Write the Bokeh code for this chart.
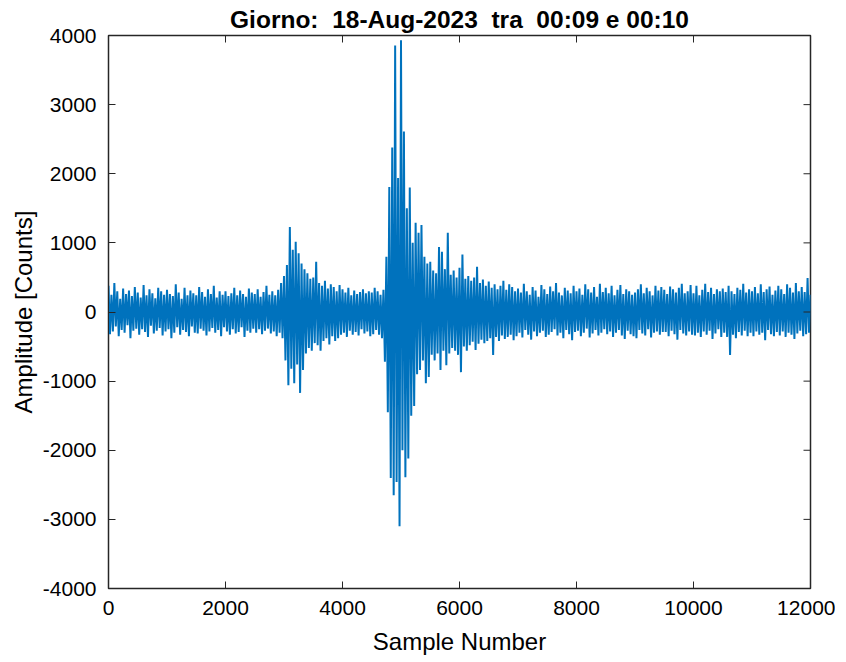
import math
from bokeh.plotting import figure
from bokeh.models import FixedTicker, Range1d, ColumnDataSource
from bokeh.embed import file_html
from bokeh.resources import INLINE

# ---- data (amplitude, one value every 25 samples) ----
STEP = 25
b00 = [380, -320, 250, -280, 420, -210, 300, -350, 190, -260, 340, -300, 260, -190, 310, -380, 230, -270, 360, -240]
b01 = [280, -330, 210, -250, 390, -290, 240, -360, 330, -200, 270, -310, 200, -270, 350, -230, 300, -340, 250, -280]
b02 = [320, -250, 260, -380, 230, -300, 400, -220, 280, -330, 190, -260, 350, -290, 240, -350, 310, -210, 270, -300]
b03 = [240, -310, 360, -240, 290, -270, 220, -340, 330, -280, 260, -230, 380, -300, 210, -260, 300, -350, 250, -220]
b04 = [300, -280, 230, -330, 270, -250, 350, -310, 240, -290, 310, -220, 260, -360, 220, -270, 340, -300, 280, -240]
b05 = [260, -300, 330, -250, 220, -320, 290, -270, 380, -240, 250, -310, 300, -280, 240, -350, 320, -300, 420, -380]
b06 = [520, -700, 680, -1060, 1230, -820, 900, -1030, 1015, -760, 850, -1170, 700, -840, 620, -600, 560, -520, 480, -560]
b07 = [500, -450, 725, -480, 420, -560, 380, -420, 450, -380, 340, -470, 400, -350, 360, -420, 300, -380, 390, -330]
b08 = [330, -300, 280, -360, 350, -270, 240, -330, 310, -290, 260, -340, 290, -250, 330, -310, 270, -280, 300, -350]
b09 = [280, -320, 350, -260, 300, -330, 250, -380, 320, -720, 800, -1450, 1810, -2400, 2380, -2650, 3855, -2460, 1940, -3100]
b10 = [3930, -2000, 2610, -2390, 1500, -2120, 1800, -1500, 1000, -1360, 1290, -900, 1145, -840, 1260, -700, 800, -1030, 700, -940]
b11 = [725, -620, 600, -700, 560, -600, 940, -840, 870, -560, 620, -770, 1145, -600, 540, -520, 600, -560, 500, -620]
b12 = [640, -870, 830, -500, 480, -560, 520, -480, 450, -430, 500, -550, 655, -460, 420, -400, 470, -450, 380, -420]
b13 = [440, -380, 350, -620, 400, -360, 330, -420, 380, -340, 450, -390, 320, -360, 400, -330, 360, -410, 300, -350]
b14 = [340, -300, 280, -370, 410, -260, 300, -330, 250, -400, 360, -280, 310, -350, 220, -300, 390, -270, 330, -360]
b15 = [260, -330, 370, -290, 300, -250, 420, -340, 280, -300, 240, -380, 350, -260, 310, -320, 270, -410, 380, -290]
b16 = [300, -270, 340, -350, 250, -300, 400, -240, 330, -370, 280, -310, 360, -260, 220, -340, 410, -300, 290, -250]
b17 = [350, -320, 270, -280, 380, -360, 240, -300, 320, -260, 390, -340, 260, -390, 330, -270, 300, -320, 250, -350]
b18 = [280, -380, 330, -260, 400, -310, 270, -340, 350, -250, 300, -370, 240, -300, 380, -280, 310, -330, 360, -290]
b19 = [320, -290, 260, -350, 370, -270, 330, -320, 280, -400, 350, -260, 410, -310, 270, -340, 300, -280, 390, -330]
b20 = [270, -340, 380, -300, 240, -360, 320, -280, 410, -330, 290, -270, 350, -390, 260, -310, 330, -250, 300, -360]
b21 = [340, -300, 290, -360, 380, -620, 300, -330, 260, -380, 350, -290, 320, -340, 410, -270, 280, -350, 330, -300]
b22 = [300, -350, 360, -280, 270, -330, 400, -300, 290, -410, 330, -260, 370, -320, 250, -350, 310, -290, 380, -340]
b23 = [330, -280, 260, -360, 400, -300, 350, -330, 280, -390, 420, -310, 300, -270, 360, -350, 290, -320, 490, -300]
b_end = [250]

x_ticks = [0, 2000, 4000, 6000, 8000, 10000, 12000]
y_ticks = [-4000, -3000, -2000, -1000, 0, 1000, 2000, 3000, 4000]
x_min, x_max = 0, 12000
y_min, y_max = -4000, 4000

title_text = "Giorno:\u00a0 18-Aug-2023\u00a0 tra\u00a0 00:09 e 00:10"
x_label = "Sample Number"
y_label = "Amplitude [Counts]"

amplitude = (b00 + b01 + b02 + b03 + b04 + b05 + b06 + b07 + b08 + b09 + b10 + b11 +
             b12 + b13 + b14 + b15 + b16 + b17 + b18 + b19 + b20 + b21 + b22 + b23 + b_end)
sample = [i * STEP for i in range(len(amplitude))]

src = ColumnDataSource(data=dict(sample=sample, amplitude=amplitude))

FONT = "'Liberation Sans', Arial, Helvetica, sans-serif"
AX = "#262626"

p = figure(frame_width=702, frame_height=553, output_backend="svg", toolbar_location=None,
           x_range=Range1d(x_min, x_max), y_range=Range1d(y_min, y_max),
           min_border_left=108, min_border_right=25, min_border_top=35, min_border_bottom=60,
           background_fill_color="white", border_fill_color="white")

p.line("sample", "amplitude", source=src, line_color="#0072BD", line_width=2.0)

# inner tick marks on the top and right edges of the box
p.ray(x=x_ticks, y=[y_max] * len(x_ticks), length=7, length_units="screen",
      angle=-math.pi / 2, line_color=AX, line_width=1)
p.ray(x=[x_max] * len(y_ticks), y=y_ticks, length=7, length_units="screen",
      angle=math.pi, line_color=AX, line_width=1)

p.title.text = title_text
p.title.align = "center"
p.title.text_font = FONT
p.title.text_font_size = "24.5px"
p.title.text_font_style = "bold"
p.title.text_color = "black"
p.title.standoff = 5

p.grid.visible = False
p.outline_line_color = AX
p.outline_line_width = 1.5
p.outline_line_alpha = 1.0

for ax, ticks, lab, sto in ((p.xaxis[0], x_ticks, x_label, 10), (p.yaxis[0], y_ticks, y_label, 3)):
    ax.ticker = FixedTicker(ticks=ticks)
    ax.major_label_overrides = {t: str(t) for t in ticks}
    ax.major_tick_in = 7
    ax.major_tick_out = 0
    ax.minor_tick_in = 0
    ax.minor_tick_out = 0
    ax.major_tick_line_color = AX
    ax.axis_line_color = AX
    ax.major_label_text_font = FONT
    ax.major_label_text_font_size = "21px"
    ax.major_label_text_color = "black"
    ax.major_label_standoff = 12
    ax.axis_label = lab
    ax.axis_label_text_font = FONT
    ax.axis_label_text_font_size = "24px"
    ax.axis_label_text_font_style = "normal"
    ax.axis_label_text_color = "black"
    ax.axis_label_standoff = sto

open("out.html", "w").write(file_html(p, INLINE))
